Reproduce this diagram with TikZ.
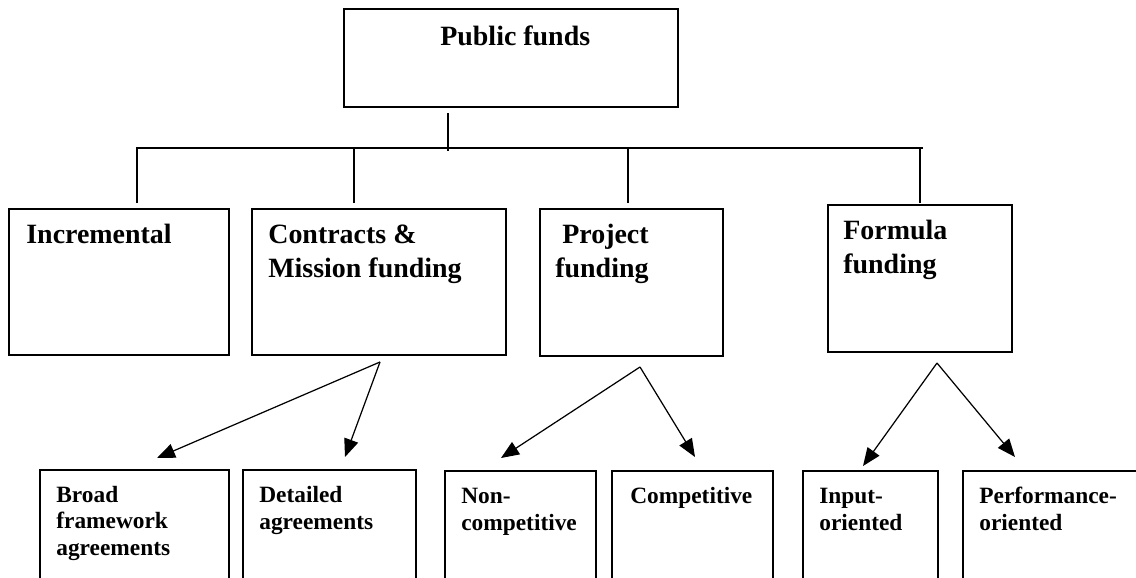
\documentclass[tikz,border=0pt]{standalone}
\usepackage{fontspec}
\setmainfont{Liberation Serif}
\usetikzlibrary{fit,arrows.meta}
\begin{document}
\begin{tikzpicture}[x=0.02cm,y=-0.02cm,
  fbox/.style={draw, line width=0.9pt, inner sep=0pt},
  big/.style={anchor=base west, inner sep=0pt, align=left, font=\bfseries\fontsize{15.9}{19.3}\selectfont},
  small/.style={anchor=base west, inner sep=0pt, align=left, font=\bfseries\fontsize{13.3}{15}\selectfont},
  link/.style={line width=0.7pt},
  arr/.style={line width=0.7pt, -{Triangle[length=0.36cm,width=0.29cm]}}]
\useasboundingbox (0,0) rectangle (1136,578);
\clip (0,0) rectangle (1136,578);
\node[fbox, fit={(344,9) (678,107)}] (top) {};
\node[big] (top-t) at (440,45) {Public funds};
\node[fbox, fit={(9,209) (229,355)}] (inc) {};
\node[fbox, fit={(252,209) (506,355)}] (con) {};
\node[fbox, fit={(540,209) (723,356)}] (pro) {};
\node[fbox, fit={(828,205) (1012,352)}] (frm) {};
\node[big] (inc-t) at (26,243) {Incremental};
\node[big] (con-t) at (268,277) {Contracts \&\\Mission funding};
\node[big] (pro-t) at (555,277) {\ Project\\funding};
\node[big] (frm-t) at (843,273) {Formula\\funding};
\node[fbox, fit={(40,470) (229,600)}] (brd) {};
\node[fbox, fit={(243,470) (416,600)}] (det) {};
\node[fbox, fit={(445,471) (596,600)}] (ncp) {};
\node[fbox, fit={(612,471) (773,600)}] (cmp) {};
\node[fbox, fit={(803,471) (938,600)}] (inp) {};
\node[fbox, fit={(963,471) (1160,600)}] (prf) {};
\node[small] (brd-t) at (56,555) {Broad\\framework\\agreements};
\node[small] (det-t) at (259,529) {Detailed\\agreements};
\node[small] (ncp-t) at (461,530) {Non-\\competitive};
\node[small] (cmp-t) at (630,503) {Competitive};
\node[small] (inp-t) at (819,530) {Input-\\oriented};
\node[small] (prf-t) at (979,530) {Performance-\\oriented};
\coordinate (stub) at (448,113);
\coordinate (stub-end) at (448,151);
\coordinate (bus-l) at (137,148);
\coordinate (bus-r) at (923,148);
\coordinate (inc-in) at (137,203);
\coordinate (con-in) at (354,203);
\coordinate (pro-in) at (628,203);
\coordinate (frm-in) at (920,203);
\draw[link] (stub) -- (stub-end);
\draw[link] (inc-in) -- (bus-l) -- (bus-r);
\draw[link] (con-in) -- (con-in |- bus-l);
\draw[link] (pro-in) -- (pro-in |- bus-l);
\draw[link] (frm-in) -- (frm-in |- bus-l);
\coordinate (con-fork) at (380,362);
\coordinate (pro-fork) at (640,367);
\coordinate (frm-fork) at (937,363);
\coordinate (brd-in) at (157,458);
\coordinate (det-in) at (345,457);
\coordinate (ncp-in) at (501,458);
\coordinate (cmp-in) at (695,457);
\coordinate (inp-in) at (863,466);
\coordinate (prf-in) at (1015,457);
\draw[arr] (con-fork) -- (brd-in);
\draw[arr] (con-fork) -- (det-in);
\draw[arr] (pro-fork) -- (ncp-in);
\draw[arr] (pro-fork) -- (cmp-in);
\draw[arr] (frm-fork) -- (inp-in);
\draw[arr] (frm-fork) -- (prf-in);
\end{tikzpicture}
\end{document}
